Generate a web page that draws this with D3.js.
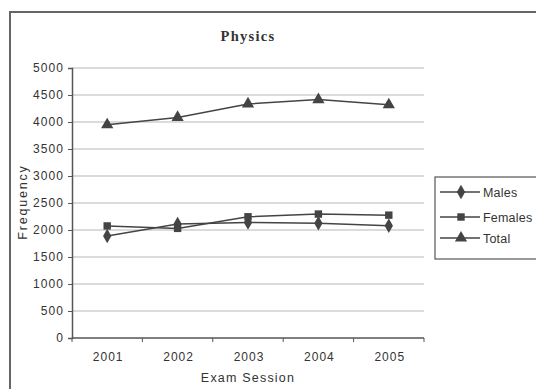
<!DOCTYPE html>
<html>
<head>
<meta charset="utf-8">
<script src="https://cdn.jsdelivr.net/npm/d3@7"></script>
<style>
  body { margin: 0; background: #fff; }
  svg text { font-family: Arial, "Liberation Sans", sans-serif; fill: #333; }
</style>
</head>
<body>
<script>
// data
var years = ["2001", "2002", "2003", "2004", "2005"];
var males = [1890, 2110, 2140, 2125, 2080];
var females = [2075, 2030, 2245, 2295, 2275];
var total = [3950, 4085, 4335, 4415, 4320];
var yTicks = [0, 500, 1000, 1500, 2000, 2500, 3000, 3500, 4000, 4500, 5000];
var seriesNames = ["Males", "Females", "Total"];

var width = 536, height = 389;
var plot = { left: 72, right: 424, top: 68, bottom: 338 };

var svg = d3.select("body").append("svg")
  .attr("width", width).attr("height", height);

// outer frame of the chart
svg.append("rect")
  .attr("x", 10).attr("y", 12)
  .attr("width", 540).attr("height", 390)
  .attr("fill", "none").attr("stroke", "#666").attr("stroke-width", 2);

var x = d3.scaleBand().domain(years).range([plot.left, plot.right]);
var y = d3.scaleLinear().domain([0, 5000]).range([plot.bottom, plot.top]);

// gridlines
svg.append("g").selectAll("line")
  .data(yTicks.slice(1))
  .enter().append("line")
  .attr("x1", plot.left).attr("x2", plot.right)
  .attr("y1", function(d) { return y(d); })
  .attr("y2", function(d) { return y(d); })
  .attr("stroke", "#cfcfcf").attr("stroke-width", 1.5);

// y axis
var yAxis = svg.append("g")
  .attr("transform", "translate(" + plot.left + ",0)")
  .call(d3.axisLeft(y).tickValues(yTicks).tickFormat(d3.format("d")).tickSize(4).tickPadding(4));
yAxis.select(".domain").attr("stroke", "#555").attr("stroke-width", 1.5);
yAxis.selectAll(".tick line").attr("stroke", "#555");
yAxis.selectAll("text")
  .style("font-size", "12px").style("letter-spacing", "1.1px")
  .attr("fill", "#333");

// x axis, ticks between categories
var xAxis = svg.append("g")
  .attr("transform", "translate(0," + plot.bottom + ")");
xAxis.append("line")
  .attr("x1", plot.left).attr("x2", plot.right)
  .attr("stroke", "#555").attr("stroke-width", 1.5);
var edges = years.map(function(d) { return x(d); }).concat([plot.right]);
xAxis.selectAll("line.tk")
  .data(edges)
  .enter().append("line")
  .attr("class", "tk")
  .attr("x1", function(d) { return d; }).attr("x2", function(d) { return d; })
  .attr("y1", 0).attr("y2", 4)
  .attr("stroke", "#555");
xAxis.selectAll("text")
  .data(years)
  .enter().append("text")
  .attr("x", function(d) { return x(d) + x.bandwidth() / 2 + 1; })
  .attr("y", 23)
  .attr("text-anchor", "middle")
  .style("font-size", "12px").style("letter-spacing", "1px")
  .text(function(d) { return d; });

// titles
svg.append("text")
  .attr("x", 248).attr("y", 41)
  .attr("text-anchor", "middle")
  .style("font-family", "'Liberation Serif', 'DejaVu Serif', serif")
  .style("font-weight", "bold").style("font-size", "14.5px")
  .style("letter-spacing", "1.3px")
  .text("Physics");
svg.append("text")
  .attr("x", 248).attr("y", 382)
  .attr("text-anchor", "middle")
  .style("font-size", "12.5px").style("letter-spacing", "1.2px")
  .text("Exam Session");
svg.append("text")
  .attr("transform", "translate(27,202) rotate(-90)")
  .attr("text-anchor", "middle")
  .style("font-size", "12.5px").style("letter-spacing", "1.8px")
  .text("Frequency");

// series
var series = [males, females, total];
var shapes = [d3.symbolDiamond, d3.symbolSquare, d3.symbolTriangle];
var sizes = [60, 55, 65];
var line = d3.line()
  .x(function(d, i) { return x(years[i]) + x.bandwidth() / 2; })
  .y(function(d) { return y(d); });

series.forEach(function(s, k) {
  svg.append("path")
    .datum(s)
    .attr("d", line)
    .attr("fill", "none").attr("stroke", "#444").attr("stroke-width", 1.5);
  svg.append("g").selectAll("path")
    .data(s)
    .enter().append("path")
    .attr("transform", function(d, i) {
      return "translate(" + (x(years[i]) + x.bandwidth() / 2) + "," + y(d) + ")";
    })
    .attr("d", d3.symbol().type(shapes[k]).size(sizes[k]))
    .attr("fill", "#444");
});

// legend
var legend = svg.append("g");
legend.append("rect")
  .attr("x", 435).attr("y", 177)
  .attr("width", 110).attr("height", 82)
  .attr("fill", "#fff").attr("stroke", "#555").attr("stroke-width", 1.2);
var item = legend.selectAll("g.item")
  .data(seriesNames)
  .enter().append("g")
  .attr("class", "item")
  .attr("transform", function(d, i) { return "translate(0," + [192, 217, 238][i] + ")"; });
item.append("line")
  .attr("x1", 440).attr("x2", 480)
  .attr("stroke", "#444").attr("stroke-width", 1.5);
item.append("path")
  .attr("transform", "translate(461,0)")
  .attr("d", function(d, i) { return d3.symbol().type(shapes[i]).size(sizes[i])(); })
  .attr("fill", "#444");
item.append("text")
  .attr("x", 483).attr("y", 4.5)
  .style("font-size", "12.5px").style("letter-spacing", "0.2px")
  .text(function(d) { return d; });
</script>
</body>
</html>
